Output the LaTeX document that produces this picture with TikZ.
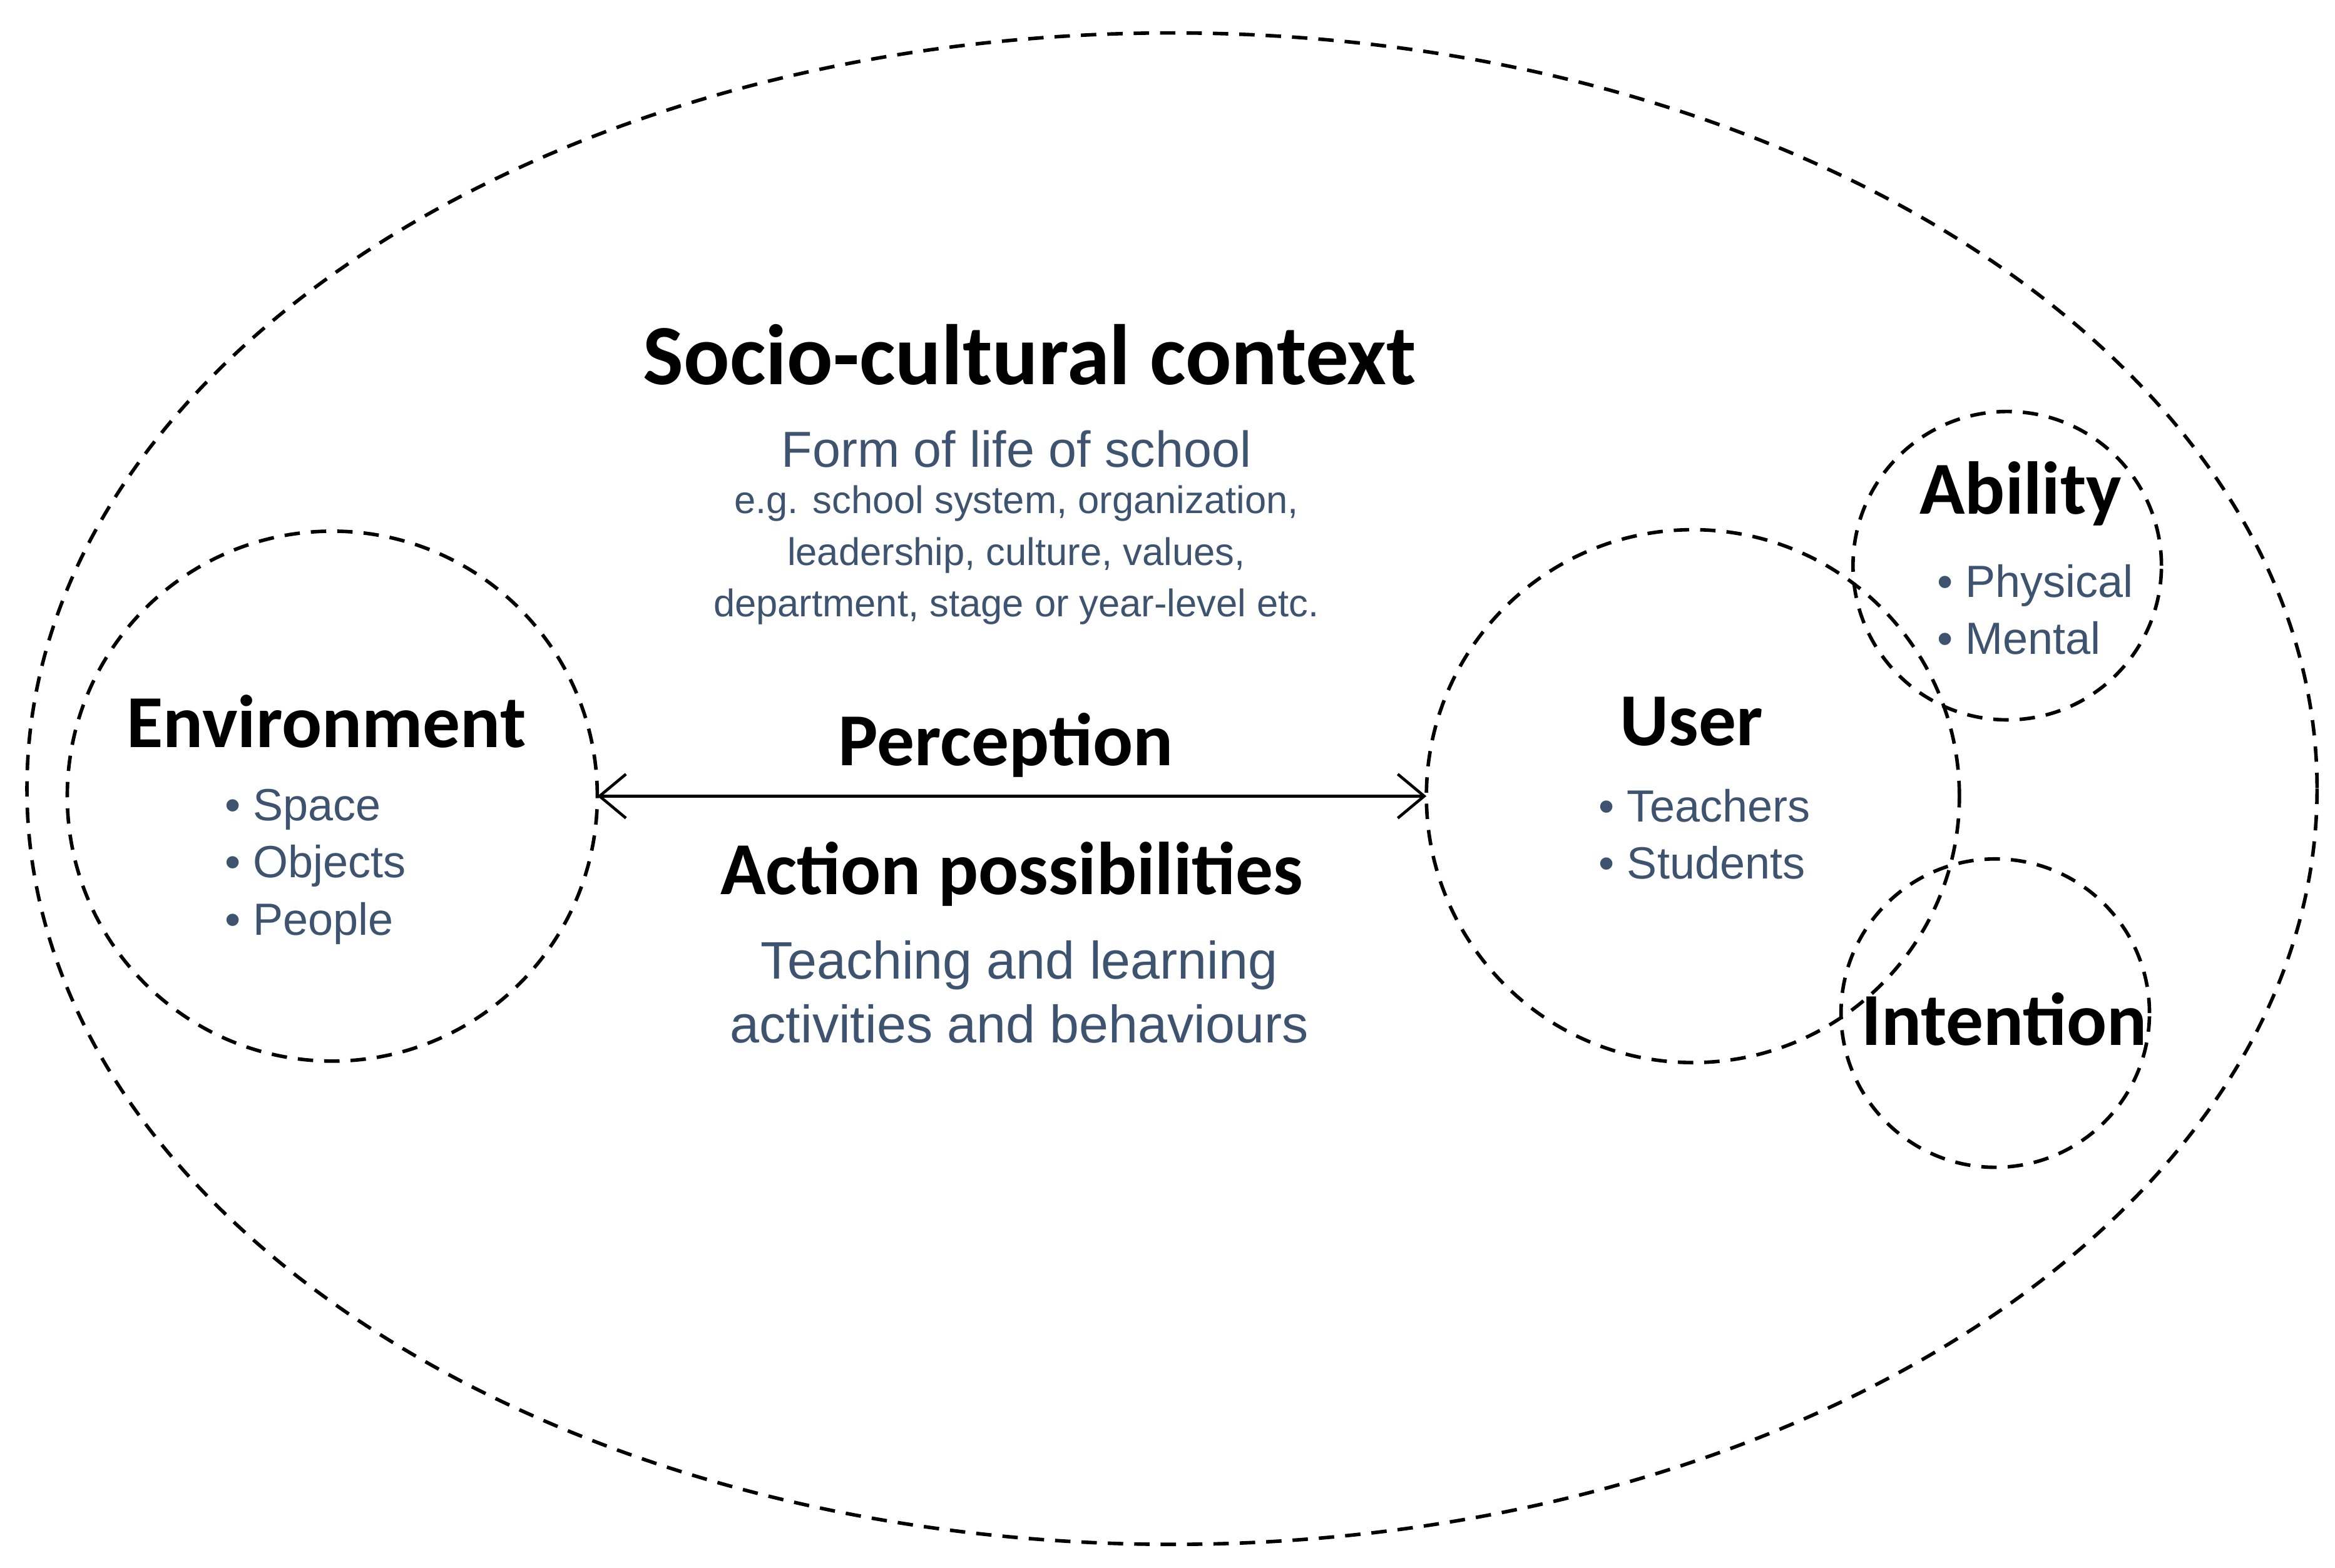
\documentclass[tikz,border=0pt]{standalone}
\usepackage{fontspec}
\setmainfont{Liberation Sans}
\newfontfamily\headf{Carlito}
\usetikzlibrary{arrows.meta}
\definecolor{bt}{HTML}{3E5370}
\begin{document}
\begin{tikzpicture}[x=0.023917cm,y=-0.023917cm,
  dc/.style={draw,dashed,line width=1.6pt,dash pattern=on 7pt off 5pt,inner sep=0pt,outer sep=0pt},
  hd/.style={font=\headf\bfseries\fontsize{39}{44}\selectfont,text=black},
  hs/.style={font=\headf\bfseries\fontsize{34}{38}\selectfont,text=black},
  bl/.style={font=\fontsize{20.5}{26}\selectfont,text=bt,align=left},
  sm/.style={font=\fontsize{17.5}{23.5}\selectfont,text=bt,align=center}]
\useasboundingbox (0,0) rectangle (1560,1047.4);
\draw[dc] (783,527) ellipse [x radius=765, y radius=505];
\node[dc,circle,minimum size=8.467cm] (env) at (222,532) {};
\node[dc,circle,minimum size=8.514cm] (user) at (1131,532) {};
\node[dc,circle,minimum size=4.927cm] (abil) at (1341,378) {};
\node[dc,circle,minimum size=4.927cm] (int) at (1333,677) {};
\draw[line width=1.3pt,{Straight Barb[length=12pt,width=20pt]}-{Straight Barb[length=12pt,width=20pt]}] (env.east) -- (user.west);
\node[hd] (t1) at (688,237) {Socio-cultural context};
\node[font=\fontsize{23}{26}\selectfont,text=bt] (t2) at (679,300) {Form of life of school};
\node[sm] (t3) at (679,371) {e.g. school system, organization,\\leadership, culture, values,\\department, stage or year-level etc.};
\node[hs] (envt) at (218,482) {Environment};
\node[bl,anchor=north west] (envl) at (145,522) {• Space\\• Objects\\• People};
\node[hs] (per) at (672,498) {Perception};
\node[hs] (act) at (676,584) {Action possibilities};
\node[font=\fontsize{24}{29}\selectfont,text=bt,align=center] (tl) at (681,663) {Teaching and learning\\activities and behaviours};
\node[hs] (ut) at (1130,482) {User};
\node[bl,anchor=north west] (ul) at (1063,522) {• Teachers\\• Students};
\node[hs] (at) at (1350,330) {Ability};
\node[bl,anchor=north west] (al) at (1289,372) {• Physical\\• Mental};
\node[hs] (it) at (1339,681) {Intention};
\end{tikzpicture}
\end{document}
